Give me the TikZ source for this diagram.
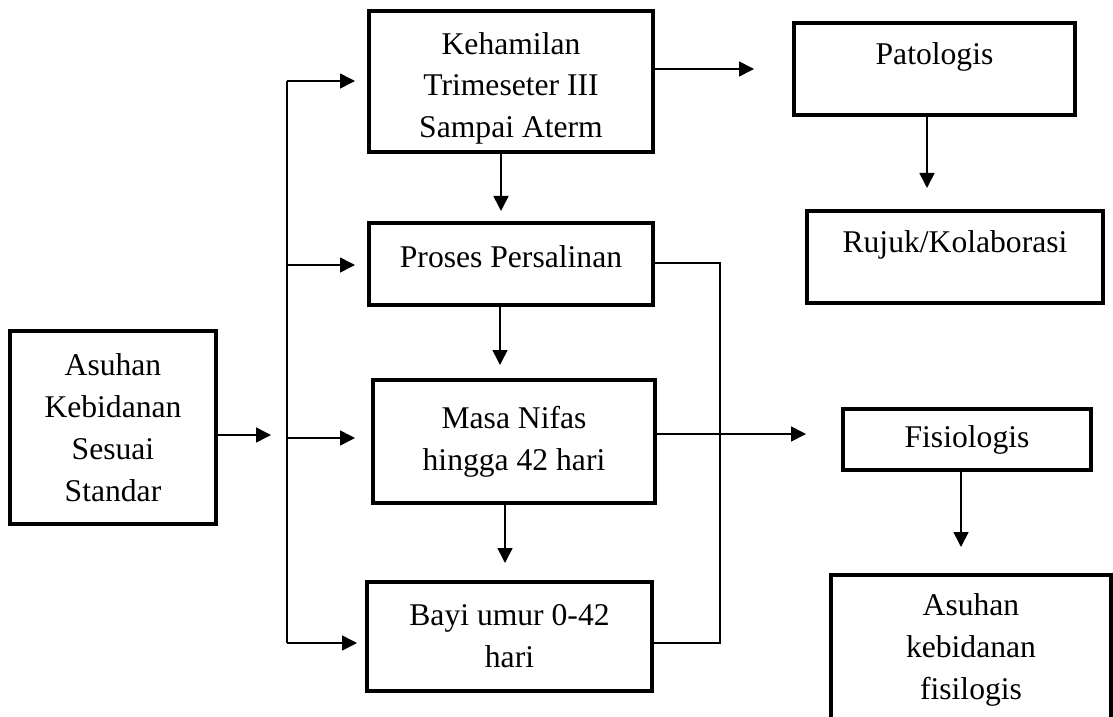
\documentclass[tikz,border=0pt]{standalone}
\usepackage{fontspec}
\setmainfont{Liberation Serif}
\usetikzlibrary{arrows.meta}
\begin{document}
\begin{tikzpicture}[x=0.02cm,y=-0.02cm,>={Triangle[length=0.3cm,width=0.3cm]},
  box/.style={draw,line width=2.3pt,align=center,inner sep=0pt,font=\fontsize{18}{23.8}\selectfont},
  arr/.style={->,line width=0.9pt},
  bus/.style={line width=0.6pt}]
\useasboundingbox (0,0) rectangle (1113,717);

\node[box,minimum width=4.12cm,minimum height=3.86cm] (asuhan) at (113,427.5) {Asuhan\\Kebidanan\\Sesuai\\Standar};
\node[box,minimum width=5.68cm,minimum height=2.82cm] (hamil) at (511,81.5) {\rule{0pt}{0.71cm}Kehamilan\\Trimeseter III\\Sampai Aterm};
\node[box,minimum width=5.68cm,minimum height=1.64cm,text depth=0.28cm] (proses) at (511,264) {Proses Persalinan};
\node[box,minimum width=5.64cm,minimum height=2.46cm] (nifas) at (514,441.5) {Masa Nifas\\hingga 42 hari};
\node[box,minimum width=5.7cm,minimum height=2.18cm] (bayi) at (509.5,636.5) {Bayi umur 0-42\\hari};
\node[box,minimum width=5.62cm,minimum height=1.84cm,text depth=0.6cm] (pato) at (934.5,69) {Patologis};
\node[box,minimum width=5.92cm,minimum height=1.84cm,text depth=0.6cm] (rujuk) at (955,257) {Rujuk/Kolaborasi};
\node[box,minimum width=4.96cm,minimum height=1.22cm] (fisio) at (967,439.5) {Fisiologis};
\node[box,minimum width=5.6cm,minimum height=3cm] (asfis) at (971,650) {Asuhan\\kebidanan\\fisilogis};

\coordinate (in) at (271,435);
\coordinate (b1) at (287,81);
\coordinate (b2) at (287,265);
\coordinate (b3) at (287,438);
\coordinate (b4) at (287,643);
\coordinate (r1) at (720,263);
\coordinate (r3) at (720,434);
\coordinate (r4) at (720,643);

\draw[arr] (asuhan.east |- in) -- (in);
\draw[line width=0.85pt] (b1) -- (b4);
\draw[arr,shorten >=0.24cm] (b1) -- (hamil.west |- b1);
\draw[arr,shorten >=0.24cm] (b2) -- (proses.west |- b2);
\draw[arr,shorten >=0.32cm] (b3) -- (nifas.west |- b3);
\draw[arr,shorten >=0.16cm] (b4) -- (bayi.west |- b4);

\draw[arr,shorten >=0.2cm] ([xshift=-0.2cm]hamil.south) -- ([xshift=-0.2cm]hamil.south |- proses.north);
\draw[arr,shorten >=0.26cm] ([xshift=-0.22cm]proses.south) -- ([xshift=-0.22cm]proses.south |- nifas.north);
\draw[arr,shorten >=0.34cm] ([xshift=-0.18cm]nifas.south) -- ([xshift=-0.18cm]nifas.south |- bayi.north);

\draw[arr,shorten >=0.76cm] (hamil.east |- pato.west) -- (pato.west);
\draw[arr,shorten >=0.42cm] ([xshift=-0.15cm]pato.south) -- ([xshift=-0.15cm]pato.south |- rujuk.north);

\draw[bus] (proses.east |- r1) -- (r1) -- (r4) -- (bayi.east |- r4);
\draw[bus] (nifas.east |- r3) -- (r3);
\draw[arr,shorten >=0.7cm] (r3) -- (fisio.west |- r3);
\draw[arr,shorten >=0.52cm] ([xshift=-0.12cm]fisio.south) -- ([xshift=-0.12cm]fisio.south |- asfis.north);
\end{tikzpicture}
\end{document}
